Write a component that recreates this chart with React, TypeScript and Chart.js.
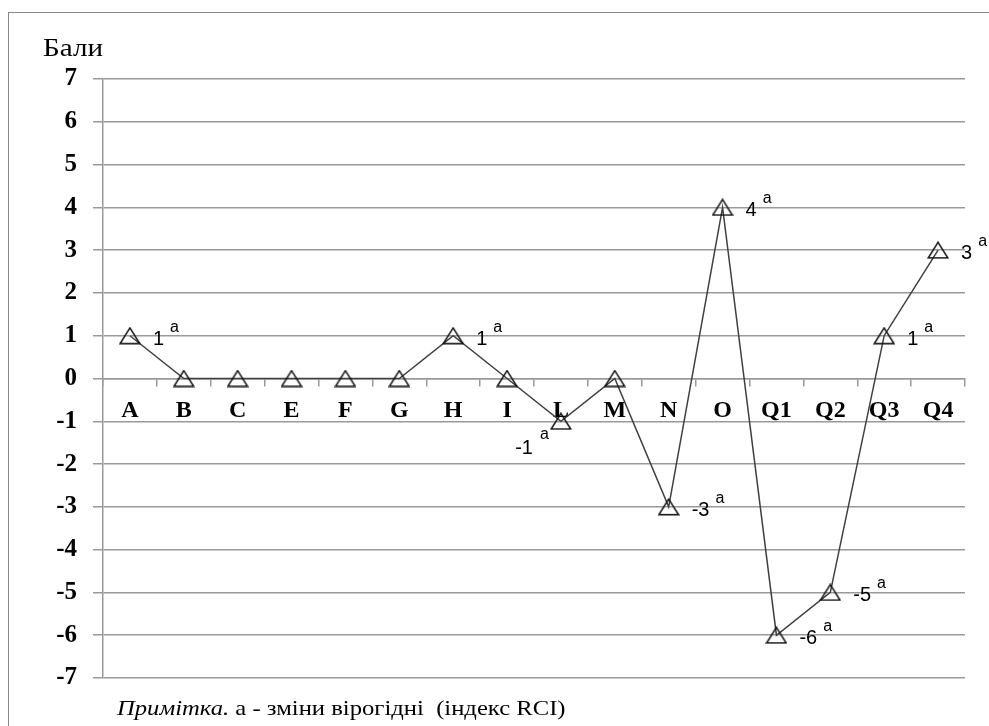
import React, { useEffect, useRef } from 'react';
import { Chart, registerables } from 'chart.js';

Chart.register(...registerables);

const categories = ['A', 'B', 'C', 'E', 'F', 'G', 'H', 'I', 'L', 'M', 'N', 'O', 'Q1', 'Q2', 'Q3', 'Q4'];
const scores = [1, 0, 0, 0, 0, 0, 1, 0, -1, 0, -3, 4, -6, -5, 1, 3];
const pointLabels = ['1', '', '', '', '', '', '1', '', '-1', '', '-3', '4', '-6', '-5', '1', '3'];
const significanceMark = 'a';
const yMin = -7;
const yMax = 7;
const yStep = 1;
const yAxisTitle = 'Бали';
const noteLead = 'Примітка.';
const noteRest = ' а - зміни вірогідні  (індекс RCI)';

const labelsBelowLeft = new Set(['L']);

export default function App() {
  const ref = useRef<HTMLCanvasElement>(null);

  useEffect(() => {
    const canvas = ref.current;
    if (!canvas) return;

    const tri = document.createElement('canvas');
    tri.width = 22;
    tri.height = 18;
    const t = tri.getContext('2d')!;
    t.strokeStyle = '#111';
    t.lineWidth = 1.5;
    t.beginPath();
    t.moveTo(11, 1.2);
    t.lineTo(1.2, 16.8);
    t.lineTo(20.8, 16.8);
    t.closePath();
    t.stroke();

    const framePlugin = {
      id: 'frame',
      beforeDraw(c: any) {
        const ctx = c.ctx;
        ctx.save();
        ctx.fillStyle = '#fff';
        ctx.fillRect(0, 0, c.width, c.height);
        ctx.strokeStyle = '#888';
        ctx.lineWidth = 1;
        ctx.strokeRect(8.5, 12.5, 1000, 800);
        ctx.restore();
      },
    };

    const labelPlugin = {
      id: 'pointLabels',
      afterDatasetsDraw(c: any) {
        const ctx = c.ctx;
        const meta = c.getDatasetMeta(0);
        ctx.save();
        ctx.fillStyle = '#000';
        ctx.textBaseline = 'alphabetic';
        meta.data.forEach((pt: any, i: number) => {
          const txt = pointLabels[i];
          if (!txt) return;
          const x = pt.x;
          const y = pt.y;
          ctx.font = '20px "Liberation Sans"';
          const w = ctx.measureText(txt).width;
          if (labelsBelowLeft.has(categories[i])) {
            ctx.textAlign = 'right';
            ctx.fillText(txt, x - 28, y + 33);
            ctx.font = '16px "Liberation Sans"';
            ctx.textAlign = 'left';
            ctx.fillText(significanceMark, x - 21, y + 18);
          } else {
            ctx.textAlign = 'left';
            ctx.fillText(txt, x + 23, y + 9);
            ctx.font = '16px "Liberation Sans"';
            ctx.fillText(significanceMark, x + 23 + w + 6, y - 4);
          }
        });
        ctx.restore();
      },
    };

    const chart = new Chart(canvas, {
      type: 'line',
      data: {
        labels: categories,
        datasets: [
          {
            data: scores,
            borderColor: '#404040',
            borderWidth: 1.5,
            pointStyle: tri as any,
            pointRadius: 10,
            pointHoverRadius: 10,
            tension: 0,
            fill: false,
            clip: false as any,
          },
        ],
      },
      options: {
        responsive: false,
        animation: false,
        events: [],
        layout: { padding: { left: 0, right: 24, top: 79, bottom: 48 } },
        plugins: {
          legend: { display: false },
          tooltip: { enabled: false },
          title: { display: false },
        },
        scales: {
          x: {
            type: 'category',
            position: { y: 0 } as any,
            offset: true,
            grid: {
              display: true,
              drawOnChartArea: false,
              drawTicks: true,
              tickLength: 7,
              color: '#999',
              lineWidth: 1.5,
              offset: true,
            },
            border: { display: true, color: '#999', width: 1.5 },
            ticks: {
              font: { family: '"Liberation Serif"', size: 24, weight: 'bold' },
              color: '#000',
              padding: 11,
              autoSkip: false,
              maxRotation: 0,
            },
          },
          y: {
            min: yMin,
            max: yMax,
            ticks: {
              stepSize: yStep,
              font: { family: '"Liberation Serif"', size: 25, weight: 'bold' },
              color: '#000',
              padding: 16,
            },
            grid: { color: '#999', lineWidth: 1.5, tickLength: 10 },
            border: { color: '#999', width: 1.5 },
            afterFit: (s: any) => {
              s.width = 103;
            },
          },
        },
      },
      plugins: [framePlugin, labelPlugin],
    });

    return () => chart.destroy();
  }, []);

  return (
    <div style={{ position: 'absolute', left: 0, top: 0, width: 989, height: 726, overflow: 'hidden', background: '#fff' }}>
      <canvas ref={ref} width={989} height={726} style={{ position: 'absolute', left: 0, top: 0 }} />
      <div
        style={{
          position: 'absolute',
          left: 43,
          top: 35,
          fontFamily: '"Liberation Serif", serif',
          fontSize: 26,
          lineHeight: '26px',
          color: '#000',
          whiteSpace: 'pre',
          transform: 'scaleX(1.12)',
          transformOrigin: 'left top',
        }}
      >
        {yAxisTitle}
      </div>
      <div
        style={{
          position: 'absolute',
          left: 117,
          top: 697,
          fontFamily: '"Liberation Serif", serif',
          fontSize: 22,
          lineHeight: '22px',
          color: '#000',
          whiteSpace: 'pre',
          transform: 'scaleX(1.12)',
          transformOrigin: 'left top',
        }}
      >
        <i>{noteLead}</i>
        {noteRest}
      </div>
    </div>
  );
}
